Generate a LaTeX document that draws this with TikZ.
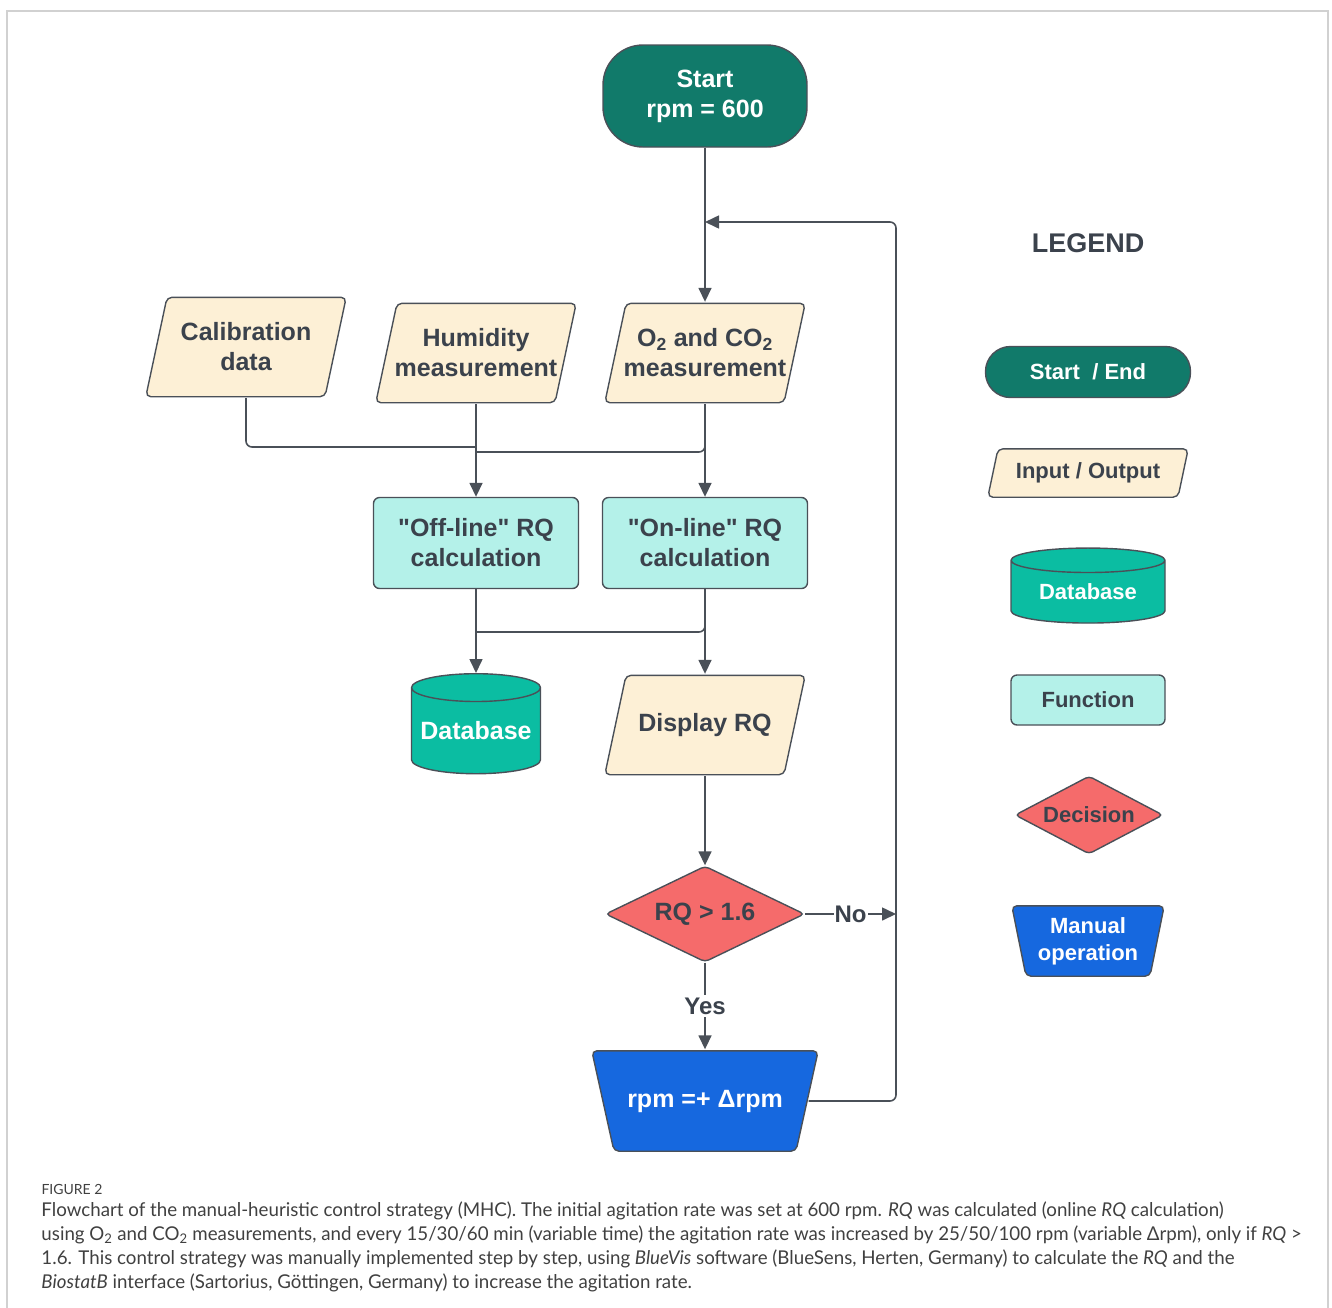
\documentclass[tikz,border=0pt]{standalone}
\usepackage{fontspec}
\setmainfont{Liberation Sans}
\newfontfamily\capfont{Lato}
\usetikzlibrary{shapes.geometric, arrows.meta}

\definecolor{startgreen}{HTML}{117A6A}
\definecolor{iocream}{HTML}{FDF0D6}
\definecolor{funccyan}{HTML}{B4F1E9}
\definecolor{dbgreen}{HTML}{0BBDA2}
\definecolor{decred}{HTML}{F56B6B}
\definecolor{manblue}{HTML}{1668DF}
\definecolor{inkgray}{HTML}{3B424C}
\definecolor{edgegray}{HTML}{4A5058}
\definecolor{capgray}{HTML}{404040}

\tikzset{
  io slant/.store in=\ioslant, io slant=22pt,
  man inset/.store in=\maninset, man inset=23pt,
  outline/.style={draw=edgegray, line width=1.4pt, rounded corners=5pt},
  base/.style={draw=edgegray, line width=1.4pt, align=center, inner sep=0pt,
    font=\bfseries\fontsize{25}{30}\selectfont, text=inkgray},
  terminal/.style={base, rectangle, rounded corners=40pt, fill=startgreen, text=white,
    minimum width=204pt, minimum height=102pt},
  io/.style={base, draw=none, rectangle, minimum width=202pt, minimum height=101pt,
    path picture={\draw[outline, fill=iocream]
      ([xshift=\ioslant, yshift=-0.8pt]path picture bounding box.north west)
      -- ([xshift=-0.8pt, yshift=-0.8pt]path picture bounding box.north east)
      -- ([xshift=-\ioslant, yshift=0.8pt]path picture bounding box.south east)
      -- ([xshift=0.8pt, yshift=0.8pt]path picture bounding box.south west) -- cycle;}},
  func/.style={base, rectangle, rounded corners=6pt, fill=funccyan,
    minimum width=205pt, minimum height=91pt},
  dbase/.style={base, cylinder, shape border rotate=90, aspect=0.25, fill=dbgreen,
    text=white, minimum width=129pt, minimum height=100pt},
  decide/.style={base, diamond, aspect=2, rounded corners=4pt, fill=decred,
    minimum width=199pt, minimum height=96pt},
  manual/.style={base, draw=none, rectangle, text=white,
    minimum width=228pt, minimum height=102pt,
    path picture={\draw[outline, fill=manblue]
      ([xshift=0.8pt, yshift=-0.8pt]path picture bounding box.north west)
      -- ([xshift=-0.8pt, yshift=-0.8pt]path picture bounding box.north east)
      -- ([xshift=-\maninset, yshift=0.8pt]path picture bounding box.south east)
      -- ([xshift=\maninset, yshift=0.8pt]path picture bounding box.south west) -- cycle;}},
  legendfont/.style={font=\bfseries\fontsize{22}{27}\selectfont},
  line/.style={draw=edgegray, line width=1.6pt},
  arr/.style={line, -{Triangle[length=14pt,width=13pt]}},
  tag/.style={fill=white, inner sep=3pt, text=inkgray, font=\bfseries\fontsize{24}{28}\selectfont},
}

\begin{document}
\begin{tikzpicture}[x=1pt, y=-1pt]
\useasboundingbox (0,0) rectangle (1332,1307);
% frame
\draw[black!18, line width=2pt] (7,1312) -- (7,11) -- (1328,11) -- (1328,1312);

% flowchart
\node[terminal] (start) at (705,96) {Start\\rpm = 600};
\node[io] (calib) at (246,347) {Calibration\\data};
\node[io] (hum) at (476,353) {Humidity\\measurement};
\node[io] (gas) at (705,353) {O\textsubscript{2} and CO\textsubscript{2}\\measurement};
\node[func] (offrq) at (476,543) {\textquotedbl Off-line\textquotedbl{} RQ\\calculation};
\node[func] (onrq) at (705,543) {\textquotedbl On-line\textquotedbl{} RQ\\calculation};
\node[dbase] (db) at (476,731) {Database};
\node[io] (disp) at (705,725) {Display RQ};
\node[decide] (dec) at (705,914) {RQ > 1.6};
\node[manual] (rpm) at (705,1101) {rpm =+ Δrpm};

% junction points
\coordinate (loopin) at (705,222);
\coordinate (loopcorner) at (896,222);
\coordinate (nojoin) at (896,914);
\coordinate (caljoin) at (476,447);
\coordinate (gasjoin) at (476,452);
\coordinate (dbjoin) at (476,632);

% connectors
\draw[arr] (start) -- (gas);
\draw[arr] (hum) -- (offrq);
\draw[arr] (gas) -- (onrq);
\draw[line, rounded corners=6pt] (calib.south) |- (caljoin);
\draw[line, rounded corners=6pt] (gas.south) |- (gasjoin);
\draw[arr] (offrq) -- (db);
\draw[arr] (onrq) -- (disp);
\draw[line, rounded corners=6pt] (onrq.south) |- (dbjoin);
\draw[arr] (disp) -- (dec);
\draw[arr] (dec) -- node[tag] {Yes} (rpm);
\draw[arr] (dec.east) -- node[tag, inner sep=1pt] {No} (nojoin);
\draw[arr, rounded corners=6pt, shorten <=-11pt] (rpm.east) -| (loopcorner) -- (loopin);

% legend
\node[text=inkgray, font=\bfseries\fontsize{27}{32}\selectfont] (legtitle) at (1088,243) {LEGEND};
\node[terminal, legendfont, rounded corners=25pt, minimum width=205pt, minimum height=51pt] (legstart) at (1088,372) {Start \ / End};
\node[io, legendfont, io slant=11pt, minimum width=202pt, minimum height=50pt] (legio) at (1088,473) {Input / Output};
\node[dbase, legendfont, minimum width=154pt, minimum height=75pt] (legdb) at (1088,592) {Database};
\node[func, legendfont, minimum width=154pt, minimum height=50pt] (legfunc) at (1088,700) {Function};
\node[decide, legendfont, minimum width=148pt, minimum height=78pt] (legdec) at (1089,815) {Decision};
\node[manual, legendfont, man inset=15pt, minimum width=154pt, minimum height=72pt] (legman) at (1088,941) {Manual\\operation};

% caption
\node[anchor=north west, text=capgray, font=\capfont\fontsize{14}{17}\selectfont] (figlabel) at (38,1181) {FIGURE 2};
\node[anchor=north west, align=left, text=capgray, xscale=0.985, transform shape,
  font=\capfont\fontsize{19}{24}\selectfont] (caption) at (38,1198)
  {Flowchart of the manual-heuristic control strategy (MHC). The initial agitation rate was set at 600 rpm. \textit{RQ} was calculated (online \textit{RQ} calculation)\\
  using O\textsubscript{2} and CO\textsubscript{2} measurements, and every 15/30/60 min (variable time) the agitation rate was increased by 25/50/100 rpm (variable Δrpm), only if \textit{RQ} >\\
  1.6. This control strategy was manually implemented step by step, using \textit{BlueVis} software (BlueSens, Herten, Germany) to calculate the \textit{RQ} and the\\
  \textit{BiostatB} interface (Sartorius, Göttingen, Germany) to increase the agitation rate.};
\end{tikzpicture}
\end{document}
